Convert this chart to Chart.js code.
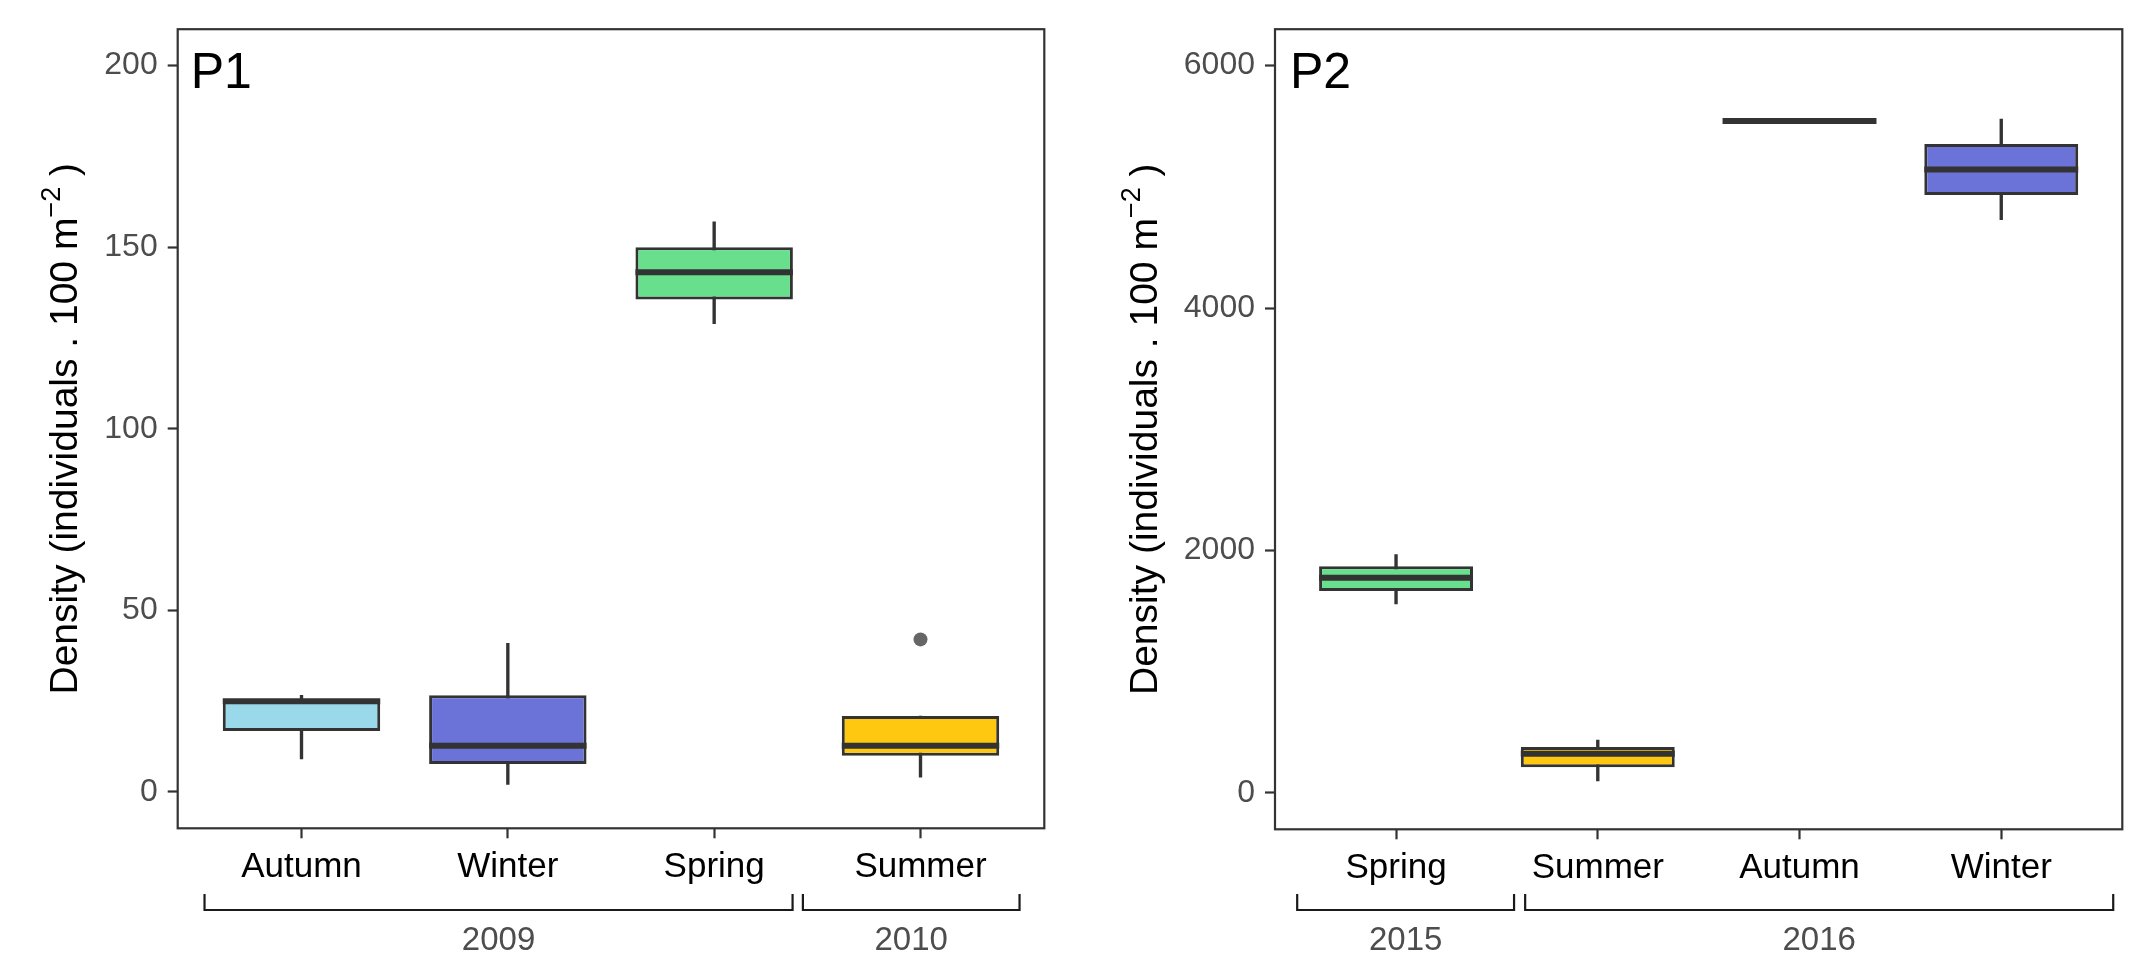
<!DOCTYPE html>
<html>
<head>
<meta charset="utf-8">
<script src="https://cdn.jsdelivr.net/npm/chart.js@4.4.1/dist/chart.umd.min.js"></script>
<style>
  html, body { margin: 0; padding: 0; background: #fff; }
  canvas { position: absolute; top: 0; }
</style>
</head>
<body>
<canvas id="p1" width="1070" height="956" style="left:0"></canvas>
<canvas id="p2" width="1069" height="956" style="left:1070px"></canvas>
<script>
// ---- P1 (2009-2010) ----
const p1Seasons = ["Autumn", "Winter", "Spring", "Summer"];
const p1Min = [9.1, 2.1, 128.9, 4.1];
const p1Q1 = [16.8, 7.7, 135.6, 10.0];
const p1Median = [25.0, 12.7, 143.1, 12.7];
const p1Q3 = [25.6, 26.6, 150.0, 20.9];
const p1Max = [26.6, 40.9, 157.0, 20.9];
const p1OutlierSeason = [4];
const p1OutlierValue = [42.0];
const p1Ticks = [0, 50, 100, 150, 200];
const p1Years = ["2009", "2010"];
const p1YearSpans = [[0.53, 3.38], [3.43, 4.48]];

// ---- P2 (2015-2016) ----
const p2Seasons = ["Spring", "Summer", "Autumn", "Winter"];
const p2Min = [1559, 100, 5543, 4729];
const p2Q1 = [1665, 212, 5543, 4933];
const p2Median = [1776, 323, 5543, 5143];
const p2Q3 = [1869, 378, 5543, 5352];
const p2Max = [1967, 435, 5543, 5559];
const p2OutlierSeason = [];
const p2OutlierValue = [];
const p2Ticks = [0, 2000, 4000, 6000];
const p2Years = ["2015", "2016"];
const p2YearSpans = [[0.51, 1.585], [1.64, 4.555]];

const seasonColors = {
    Autumn: "#9ad9e9",
    Winter: "#6b72d8",
    Spring: "#67df8c",
    Summer: "#fec811",
};

const FONT = "'Liberation Sans', Arial, sans-serif";
const DARK = "#333333";
const BOX_FRAC = 0.763;

const panelDecor = {
    id: "panelDecor",
    afterDraw(chart, args, opts) {
        const { ctx, chartArea: a, scales: { x } } = chart;
        ctx.save();

        // panel frame
        ctx.strokeStyle = DARK;
        ctx.lineWidth = 2.2;
        ctx.strokeRect(a.left, a.top, a.right - a.left, a.bottom - a.top);

        // panel tag
        ctx.fillStyle = "#000";
        ctx.font = `50px ${FONT}`;
        ctx.textAlign = "left";
        ctx.textBaseline = "alphabetic";
        ctx.fillText(opts.tag, a.left + opts.tagX, a.top + 58.5);

        // year brackets under the season labels
        ctx.strokeStyle = "#1a1a1a";
        ctx.lineWidth = 2.2;
        ctx.font = `33px ${FONT}`;
        ctx.fillStyle = "#4d4d4d";
        ctx.textAlign = "center";
        opts.years.forEach((yr, i) => {
            const x0 = x.getPixelForValue(opts.spans[i][0]);
            const x1 = x.getPixelForValue(opts.spans[i][1]);
            const yb = a.bottom + opts.bracketY;
            ctx.beginPath();
            ctx.moveTo(x0, yb - 16);
            ctx.lineTo(x0, yb);
            ctx.lineTo(x1, yb);
            ctx.lineTo(x1, yb - 16);
            ctx.stroke();
            ctx.fillText(yr, (x0 + x1) / 2, a.bottom + opts.yearY);
        });

        // y axis title with superscript
        const main = "Density (individuals . 100 m";
        const sup = "\u22122";
        const tail = " )";
        ctx.font = `39px ${FONT}`;
        const w1 = ctx.measureText(main).width;
        const w3 = ctx.measureText(tail).width;
        ctx.font = `27px ${FONT}`;
        const w2 = ctx.measureText(sup).width;
        ctx.translate(a.left - opts.titleOffset, (a.top + a.bottom) / 2);
        ctx.rotate(-Math.PI / 2);
        ctx.textAlign = "left";
        ctx.fillStyle = "#000";
        let cx = -(w1 + w2 + w3) / 2;
        ctx.font = `39px ${FONT}`;
        ctx.fillText(main, cx, 0);
        cx += w1;
        ctx.font = `27px ${FONT}`;
        ctx.fillText(sup, cx, -17);
        cx += w2;
        ctx.font = `39px ${FONT}`;
        ctx.fillText(tail, cx, 0);

        ctx.restore();
    },
};

function drawPanel(id, p) {
    const pos = p.seasons.map((s, i) => i + 1);
    const halfBox = (c) => {
        const xs = c.chart.scales.x;
        return Math.abs(xs.getPixelForValue(1 + BOX_FRAC / 2) - xs.getPixelForValue(1));
    };

    new Chart(document.getElementById(id), {
        type: "bar",
        data: {
            datasets: [
                {
                    type: "scatter",
                    label: "median",
                    data: pos.map((v, i) => ({ x: v, y: p.median[i] })),
                    pointStyle: "line",
                    pointRadius: halfBox,
                    pointBorderColor: DARK,
                    pointBackgroundColor: DARK,
                    pointBorderWidth: 6,
                    order: 0,
                },
                {
                    type: "scatter",
                    label: "outliers",
                    data: p.outSeason.map((s, i) => ({ x: s, y: p.outValue[i] })),
                    pointRadius: 7,
                    pointBackgroundColor: "#666666",
                    pointBorderWidth: 0,
                    order: 0,
                },
                {
                    type: "bar",
                    label: "box",
                    data: pos.map((v, i) => ({ x: v, y: [p.q1[i], p.q3[i]] })),
                    backgroundColor: p.seasons.map((s) => seasonColors[s]),
                    borderColor: DARK,
                    borderWidth: 3,
                    borderSkipped: false,
                    grouped: false,
                    categoryPercentage: 1,
                    barPercentage: BOX_FRAC,
                    order: 1,
                },
                {
                    type: "bar",
                    label: "whisker",
                    data: pos.map((v, i) => ({ x: v, y: [p.min[i], p.max[i]] })),
                    backgroundColor: DARK,
                    barThickness: 2.7,
                    grouped: false,
                    order: 2,
                },
            ],
        },
        options: {
            responsive: false,
            animation: false,
            devicePixelRatio: 1,
            events: [],
            layout: {
                padding: { left: p.padLeft, right: p.padRight, top: p.padTop, bottom: 0 },
            },
            plugins: {
                legend: { display: false },
                tooltip: { enabled: false },
                panelDecor: p.decor,
            },
            scales: {
                x: {
                    type: "linear",
                    min: 0.4,
                    max: 4.6,
                    offset: false,
                    afterBuildTicks: (axis) => {
                        axis.ticks = pos.map((v) => ({ value: v }));
                    },
                    afterFit: (s) => { s.height = p.xHeight; },
                    grid: {
                        offset: false,
                        drawOnChartArea: false,
                        tickLength: 10,
                        tickColor: DARK,
                        tickWidth: 2.2,
                    },
                    border: { display: false },
                    ticks: {
                        callback: (v, i) => p.seasons[i],
                        autoSkip: false,
                        maxRotation: 0,
                        padding: 8,
                        color: "#000",
                        font: { family: FONT, size: 35 },
                    },
                },
                y: {
                    type: "linear",
                    min: p.yMin,
                    max: p.yMax,
                    afterBuildTicks: (axis) => {
                        axis.ticks = p.ticks.map((v) => ({ value: v }));
                    },
                    afterFit: (s) => { s.width = p.yWidth; },
                    grid: {
                        drawOnChartArea: false,
                        tickLength: 10,
                        tickColor: DARK,
                        tickWidth: 2.2,
                    },
                    border: { display: false },
                    ticks: {
                        callback: (v) => String(v),
                        padding: 10,
                        color: "#4d4d4d",
                        font: { family: FONT, size: 32 },
                    },
                },
            },
        },
        plugins: [panelDecor],
    });
}

drawPanel("p1", {
    seasons: p1Seasons, min: p1Min, q1: p1Q1, median: p1Median, q3: p1Q3, max: p1Max,
    outSeason: p1OutlierSeason, outValue: p1OutlierValue, ticks: p1Ticks,
    yMin: -10, yMax: 210,
    padLeft: 0, padRight: 25.7, padTop: 22.7, yWidth: 177.7, xHeight: 127.7,
    decor: { tag: "P1", tagX: 13, years: p1Years, spans: p1YearSpans, bracketY: 81.7, yearY: 121.5, titleOffset: 100.7 },
});

drawPanel("p2", {
    seasons: p2Seasons, min: p2Min, q1: p2Q1, median: p2Median, q3: p2Q3, max: p2Max,
    outSeason: p2OutlierSeason, outValue: p2OutlierValue, ticks: p2Ticks,
    yMin: -300, yMax: 6300,
    padLeft: 0, padRight: 16.7, padTop: 23.3, yWidth: 205, xHeight: 126.7,
    decor: { tag: "P2", tagX: 15, years: p2Years, spans: p2YearSpans, bracketY: 80.7, yearY: 120.5, titleOffset: 118 },
});
</script>
</body>
</html>
